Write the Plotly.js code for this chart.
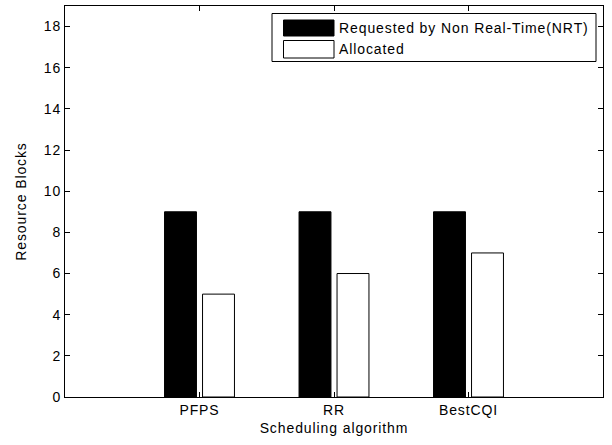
<!DOCTYPE html>
<html>
<head>
<meta charset="utf-8">
<script src="https://cdn.plot.ly/plotly-3.0.1.min.js"></script>
<style>
html,body{margin:0;padding:0;background:#fff;}
#chart{width:612px;height:445px;}
svg text{letter-spacing:0.9px;}
</style>
</head>
<body>
<div id="chart"></div>
<script>
var categories = ['PFPS', 'RR', 'BestCQI'];
var categoryPositions = [1, 2, 3];
var requestedNRT = [9, 9, 9];
var allocated = [5, 6, 7];
var seriesNames = ['Requested by Non Real-Time(NRT)', 'Allocated'];
var seriesColors = ['#000000', '#ffffff'];
var yTicks = [0, 2, 4, 6, 8, 10, 12, 14, 16, 18];

var W = 612, H = 445;
var M = {l: 65, r: 9, t: 6, b: 48};
var plotW = W - M.l - M.r, plotH = H - M.t - M.b;
function px(x) { return (x - M.l) / plotW; }
function py(y) { return (H - M.b - y) / plotH; }

var font = {family: 'Liberation Sans, Arial, sans-serif', size: 14, color: '#000'};

var traces = [
  {type: 'bar', x: categoryPositions, y: requestedNRT, name: seriesNames[0], showlegend: false,
   marker: {color: seriesColors[0], line: {color: '#000', width: 1}}},
  {type: 'bar', x: categoryPositions, y: allocated, name: seriesNames[1], showlegend: false,
   marker: {color: seriesColors[1], line: {color: '#000', width: 1}}}
];

// Legend drawn MATLAB-style (wide swatches) from the series names/colours
var shapes = [
  {type: 'rect', xref: 'paper', yref: 'paper', x0: px(272), x1: px(596), y0: py(61.5), y1: py(13.5),
   fillcolor: '#fff', line: {color: '#000', width: 1}, layer: 'above'}
];
var annotations = [];
var rowTop = [20, 40.5], rowBot = [36, 58];
for (var i = 0; i < seriesNames.length; i++) {
  shapes.push({type: 'rect', xref: 'paper', yref: 'paper', x0: px(283.5), x1: px(334), y0: py(rowBot[i]), y1: py(rowTop[i]),
    fillcolor: seriesColors[i], line: {color: '#000', width: 1}, layer: 'above'});
  annotations.push({xref: 'paper', yref: 'paper', x: px(337), y: py((rowTop[i] + rowBot[i]) / 2),
    xanchor: 'left', yanchor: 'middle', showarrow: false, text: seriesNames[i], font: font});
}

var axisCommon = {showgrid: false, zeroline: false, showline: true, linecolor: '#000', linewidth: 1,
  mirror: 'ticks', ticks: 'inside', ticklen: 5, tickcolor: '#000', tickfont: font};

var layout = {
  width: W, height: H,
  margin: M,
  paper_bgcolor: '#fff', plot_bgcolor: '#fff',
  barmode: 'group', bargap: 0.435, bargroupgap: 0.16,
  font: font,
  showlegend: false,
  shapes: shapes,
  annotations: annotations,
  xaxis: Object.assign({}, axisCommon, {range: [0, 4], tickmode: 'array', tickvals: categoryPositions,
    ticktext: categories, title: {text: 'Scheduling algorithm', font: font, standoff: 6}}),
  yaxis: Object.assign({}, axisCommon, {range: [0, 19], tickmode: 'array', tickvals: yTicks,
    title: {text: 'Resource Blocks', font: font, standoff: 13}})
};

Plotly.newPlot('chart', traces, layout, {displayModeBar: false, staticPlot: true});
</script>
</body>
</html>
